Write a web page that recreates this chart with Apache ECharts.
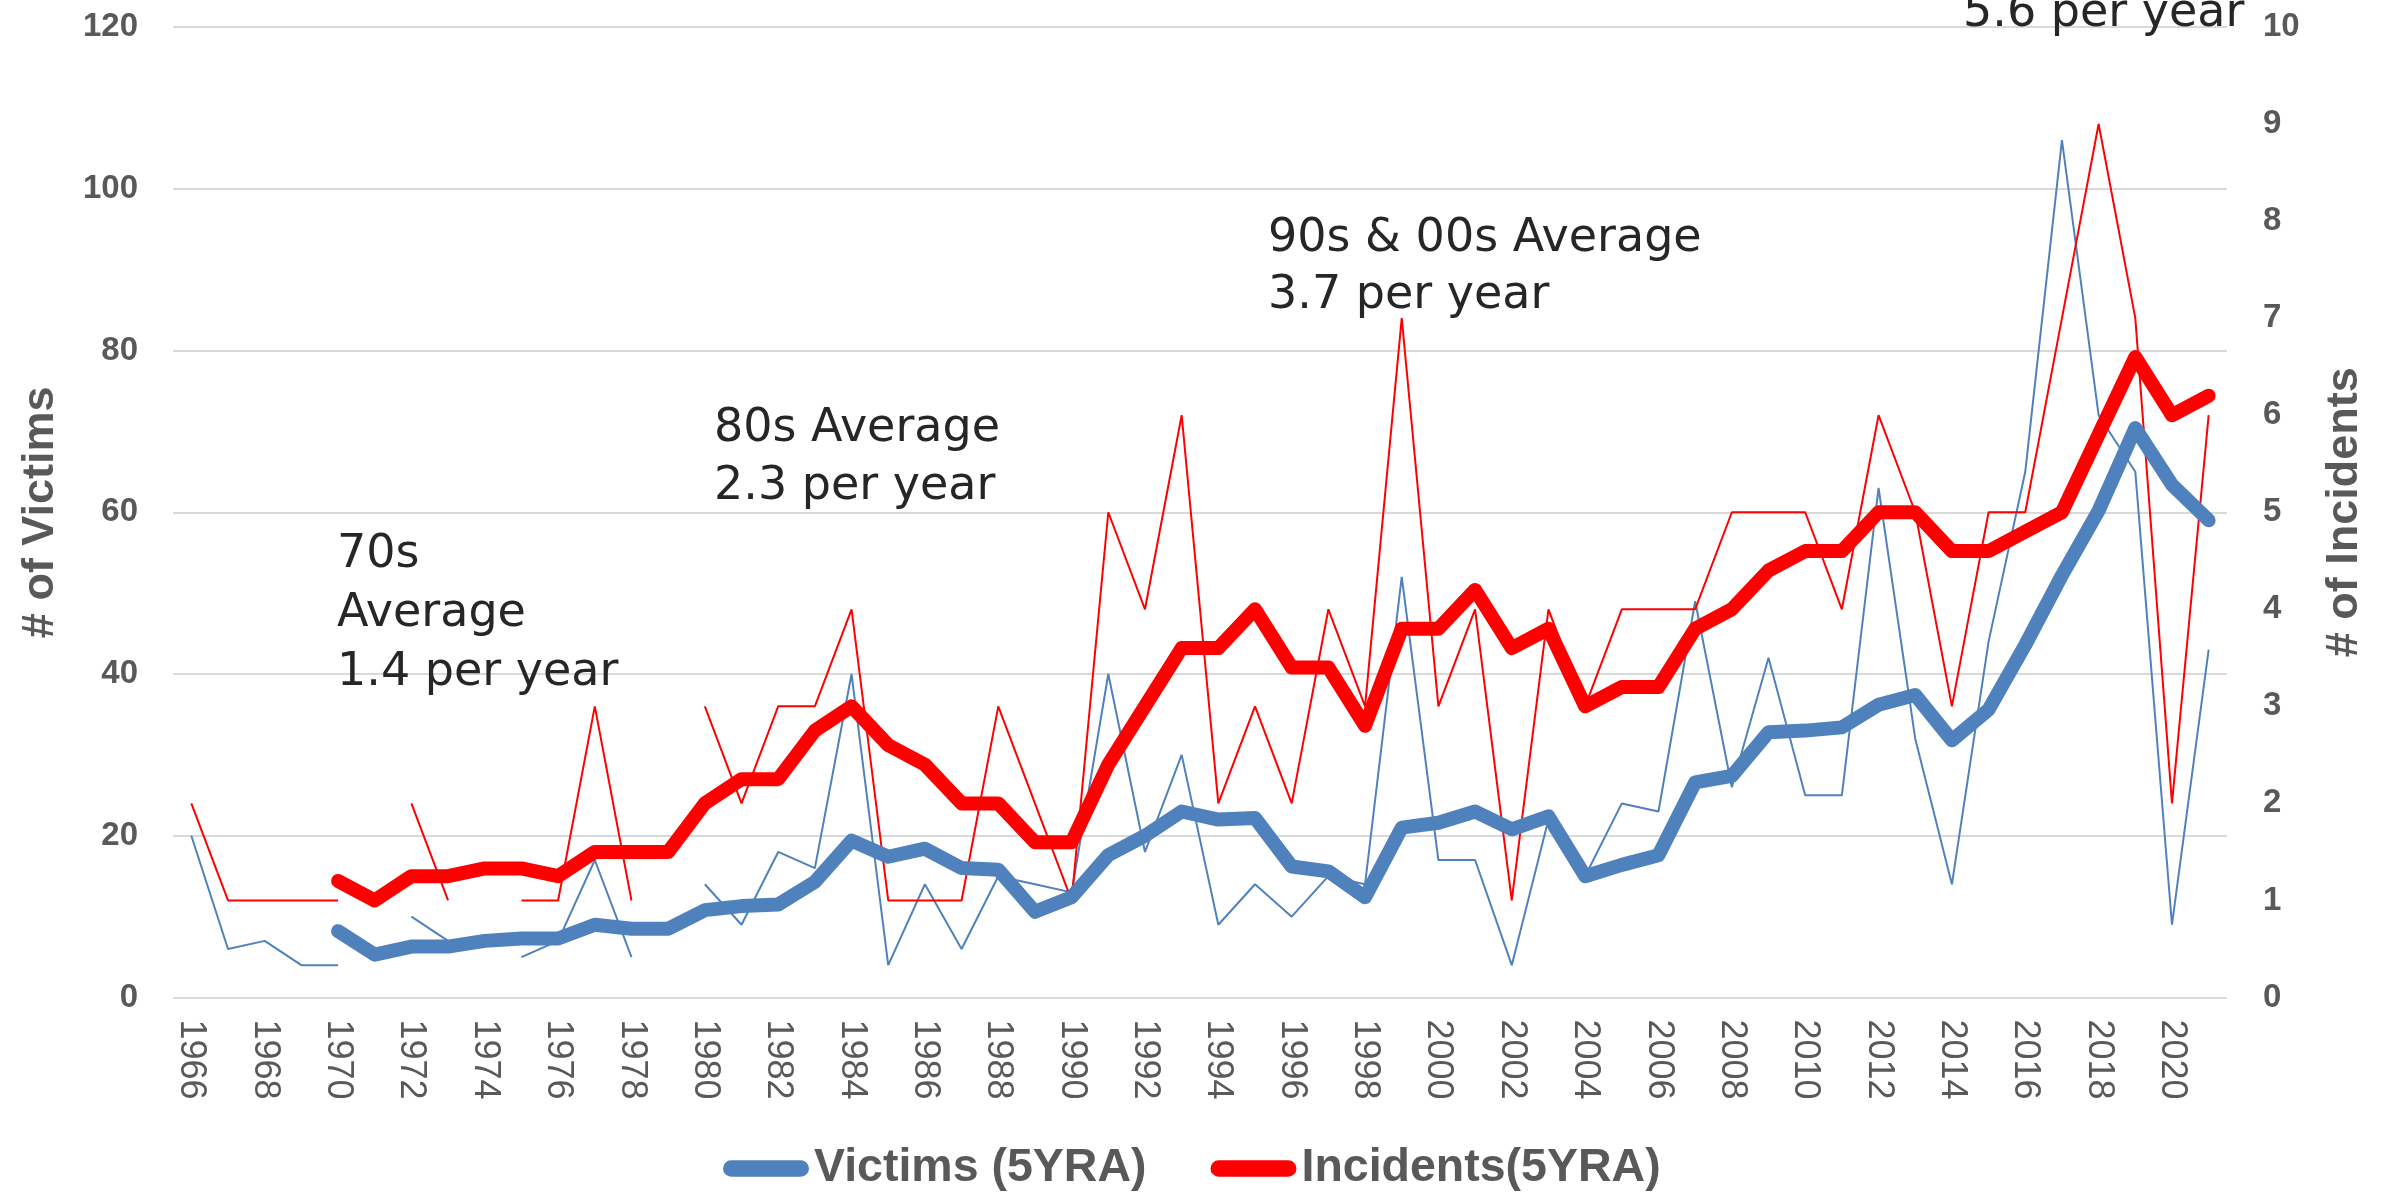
<!DOCTYPE html>
<html><head><meta charset="utf-8">
<script src="https://cdn.jsdelivr.net/npm/echarts@6/dist/echarts.min.js"></script>
<style>html,body{margin:0;padding:0;background:#fff}#c{width:2381px;height:1196px}</style>
</head><body><div id="c"></div>
<script>
const years = ['1966','1967','1968','1969','1970','1971','1972','1973','1974','1975','1976','1977','1978','1979',
  '1980','1981','1982','1983','1984','1985','1986','1987','1988','1989','1990','1991','1992','1993','1994','1995',
  '1996','1997','1998','1999','2000','2001','2002','2003','2004','2005','2006','2007','2008','2009','2010','2011',
  '2012','2013','2014','2015','2016','2017','2018','2019','2020','2021'];
const victims = [20,6,7,4,4,null,10,7,null,5,7,17,5,null,14,9,18,16,40,4,14,6,15,14,13,40,18,30,9,14,10,15,14,52,
  17,17,4,22,15,24,23,49,26,42,25,25,63,32,14,44,65,106,72,65,9,43];
const incidents = [2,1,1,1,1,null,2,1,null,1,1,3,1,null,3,2,3,3,4,1,1,1,3,2,1,5,4,6,2,3,2,4,3,7,3,4,1,4,3,4,4,4,
  5,5,5,4,6,5,3,5,5,7,9,7,2,6];
const victims5yra = [null,null,null,null,
  8.2,5.3,6.3,6.3,7.0,7.3,7.3,9.0,8.5,8.5,
  10.8,11.3,11.5,14.3,19.4,17.4,18.4,16.0,15.8,10.6,
  12.4,17.6,20.0,23.0,22.0,22.2,16.2,15.6,12.4,21.0,
  21.6,23.0,20.8,22.4,15.0,16.4,17.6,26.6,27.4,32.8,
  33.0,33.4,36.2,37.4,31.8,35.6,43.6,52.2,60.2,70.4,
  63.4,59.0];
const incidents5yra = [null,null,null,null,
  1.2,1.0,1.25,1.25,1.33,1.33,1.25,1.5,1.5,1.5,
  2.0,2.25,2.25,2.75,3.0,2.6,2.4,2.0,2.0,1.6,
  1.6,2.4,3.0,3.6,3.6,4.0,3.4,3.4,2.8,3.8,
  3.8,4.2,3.6,3.8,3.0,3.2,3.2,3.8,4.0,4.4,
  4.6,4.6,5.0,5.0,4.6,4.6,4.8,5.0,5.8,6.6,
  6.0,6.2];
const seriesNames = ['Victims (5YRA)', 'Incidents(5YRA)'];
const axisNames = ['# of Victims', '# of Incidents'];
const notes70s = ['70s', 'Average', '1.4 per year'];
const notes80s = ['80s Average', '2.3 per year'];
const notes90s = ['90s & 00s Average', '3.7 per year'];
const notes10s = ['5.6 per year'];

const BLUE = '#4f81bd', RED = '#ff0000', GRAY = '#595959';
const pill = 'path://M8,0 L76,0 A8,8 0 0 1 76,16 L8,16 A8,8 0 0 1 8,0 Z';
const noteFont = {fontFamily: 'DejaVu Sans', fontSize: 46, fill: '#262626', textVerticalAlign: 'middle'};

function noteLines(lines, x, y0, step) {
  return lines.map((t, i) => ({
    type: 'text', left: x, top: y0 + i * step, z: 100,
    style: Object.assign({text: t}, noteFont)
  }));
}

const chart = echarts.init(document.getElementById('c'), null, {renderer: 'canvas'});
chart.setOption({
  backgroundColor: '#ffffff',
  animation: false,
  grid: {left: 173, right: 154, top: 27, bottom: 198.5},
  xAxis: {
    type: 'category', data: years, boundaryGap: true,
    axisLine: {show: false}, axisTick: {show: false},
    axisLabel: {interval: 1, rotate: -90, margin: 22, color: GRAY, fontFamily: 'Liberation Sans', fontSize: 36}
  },
  yAxis: [
    {type: 'value', min: 0, max: 120, interval: 20,
     name: axisNames[0], nameLocation: 'middle', nameRotate: 90, nameGap: 110,
     nameTextStyle: {fontFamily: 'Liberation Sans', fontWeight: 'bold', fontSize: 45, color: GRAY},
     axisLine: {show: false}, axisTick: {show: false},
     axisLabel: {margin: 35, color: GRAY, fontFamily: 'Liberation Sans', fontWeight: 'bold', fontSize: 33},
     splitLine: {lineStyle: {color: '#d9d9d9', width: 2}}},
    {type: 'value', min: 0, max: 10, interval: 1,
     name: axisNames[1], nameLocation: 'middle', nameRotate: 90, nameGap: 95,
     nameTextStyle: {fontFamily: 'Liberation Sans', fontWeight: 'bold', fontSize: 45, color: GRAY},
     axisLine: {show: false}, axisTick: {show: false},
     axisLabel: {margin: 36, color: GRAY, fontFamily: 'Liberation Sans', fontWeight: 'bold', fontSize: 33},
     splitLine: {show: false}}
  ],
  legend: {
    data: [{name: seriesNames[0], icon: pill}, {name: seriesNames[1], icon: pill}],
    left: 718, top: 1140, itemWidth: 86, itemHeight: 17, itemGap: 64,
    textStyle: {fontFamily: 'Liberation Sans', fontWeight: 'bold', fontSize: 46.5, color: GRAY}
  },
  series: [
    {name: 'Victims', type: 'line', yAxisIndex: 0, data: victims, symbol: 'none', connectNulls: false,
     lineStyle: {color: BLUE, width: 2}, itemStyle: {color: BLUE}, z: 2},
    {name: 'Incidents', type: 'line', yAxisIndex: 1, data: incidents, symbol: 'none', connectNulls: false,
     lineStyle: {color: RED, width: 2}, itemStyle: {color: RED}, z: 2},
    {name: seriesNames[0], type: 'line', yAxisIndex: 0, data: victims5yra, symbol: 'none',
     lineStyle: {color: BLUE, width: 14, cap: 'round', join: 'round'}, itemStyle: {color: BLUE}, z: 3},
    {name: seriesNames[1], type: 'line', yAxisIndex: 1, data: incidents5yra, symbol: 'none',
     lineStyle: {color: RED, width: 14, cap: 'round', join: 'round'}, itemStyle: {color: RED}, z: 4}
  ],
  graphic: [].concat(
    noteLines(notes70s, 337, 532, 59),
    noteLines(notes80s, 714, 406, 58),
    noteLines(notes90s, 1268, 216, 57),
    noteLines(notes10s, 1963, -9, 57)
  )
});
</script></body></html>
